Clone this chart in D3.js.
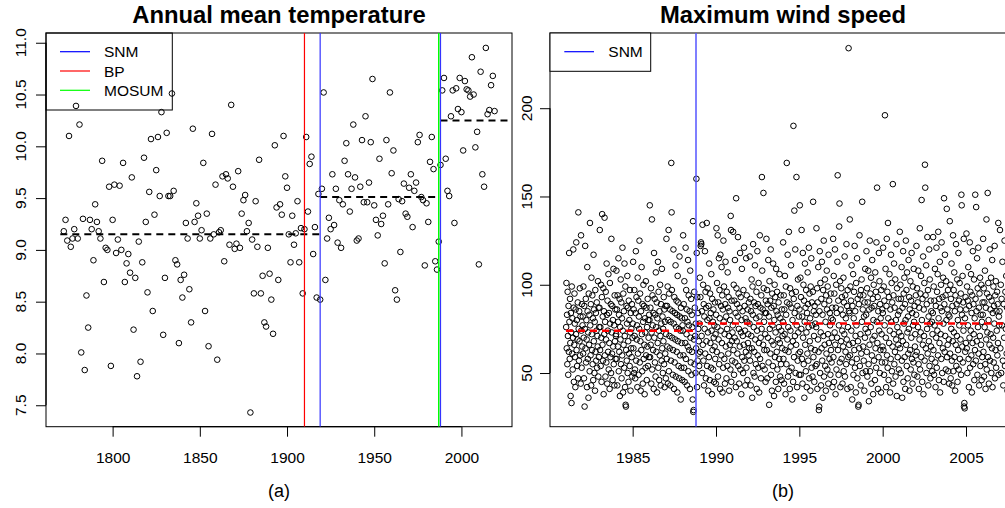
<!DOCTYPE html>
<html><head><meta charset="utf-8">
<script src="https://cdn.jsdelivr.net/npm/d3@7"></script>
<style>
html,body{margin:0;padding:0;background:#fff;}
svg{display:block;font-family:"Liberation Sans",Arial,Helvetica,sans-serif;}
</style></head>
<body>
<script>
// ---------- Panel (a): annual mean temperature ----------
const tempStartYear = 1772;
const tempValues = [
9.18,9.29,9.09,10.10,9.03,9.11,9.20,10.39,9.11,10.21,8.01,9.30,7.84,8.56,8.25,9.29,9.20,8.90,
9.44,9.27,9.18,9.11,9.86,8.69,9.02,9.00,9.61,7.88,9.29,9.63,8.97,9.10,9.62,9.00,9.84,8.69,8.87,
8.96,8.78,9.70,8.23,8.73,7.78,9.08,7.92,8.88,9.89,9.27,8.59,9.56,10.07,8.41,9.34,9.77,10.09,9.52,
10.33,8.18,8.73,10.13,9.52,9.52,10.51,9.57,8.90,8.86,8.10,8.71,8.54,8.76,9.26,9.11,8.62,8.30,10.17,
9.27,9.45,9.33,9.11,9.19,9.84,8.41,9.35,8.07,9.11,10.12,9.15,9.63,7.94,9.17,9.19,9.71,8.89,9.73,
9.69,9.05,10.40,9.61,9.01,9.06,9.76,9.02,9.35,9.48,9.53,9.18,9.26,7.43,9.10,8.58,9.47,9.03,9.87,
8.58,8.75,8.30,8.26,9.02,8.77,8.52,8.19,10.01,9.41,8.71,9.44,9.34,10.10,9.71,9.60,9.15,8.88,9.33,
9.05,9.16,9.47,8.88,9.21,8.58,9.20,10.09,9.37,9.83,9.90,8.96,9.22,8.54,9.54,8.52,9.59,10.52,8.71,
9.11,9.31,9.20,9.73,9.24,9.59,9.07,9.48,9.02,9.44,9.86,10.03,9.73,9.37,9.59,10.21,9.70,9.09,9.11,
9.61,10.06,9.46,10.29,9.46,9.65,10.04,10.65,9.43,9.29,9.14,9.88,9.25,9.33,8.87,10.06,9.44,10.52,
9.74,9.96,8.61,8.52,9.49,8.98,9.47,9.64,9.35,9.32,9.60,9.73,9.22,9.57,9.65,10.04,10.11,9.51,9.48,
8.85,9.45,9.27,9.85,10.09,9.78,8.89,8.81,9.08,9.82,10.54,10.66,9.88,9.57,9.52,10.29,10.54,9.26,
10.56,10.36,10.66,10.33,9.96,10.63,10.55,10.54,10.48,10.86,10.50,9.99,10.14,8.86,10.72,9.73,9.61,
10.95,10.31,10.35,10.59,10.68,10.34];
const tempXTicks = [1800,1850,1900,1950,2000];
const tempYTicks = [7.5,8.0,8.5,9.0,9.5,10.0,10.5,11.0];
const tempSNM = [1919,1988];
const tempBP = [1910];
const tempMOSUM = [1987];
const tempMeanFrom = [1770,1919,1988];
const tempMeanTo = [1919,1988,2029];
const tempMeanLevel = [9.15,9.51,10.25];

// ---------- Panel (b): maximum wind speed (observations listed in time order within each year) ----------
const windYears = [1981,1982,1983,1984,1985,1986,1987,1988,1989,1990,1991,1992,1993,1994,1995,1996,1997,1998,1999,2000,2001,2002,2003,2004,2005,2006,2007];
const windValues = [
[76,101,64,83,55,96,71,49,88,62,118,79,58,92,67,37,84,73,33,99,61,81,52,70,120,87,45,66,95,78,59,42,86,72,124,63,80,54,69,90,47,141,75,57,85,68,98,60,82,44,128,74,53,89,65,77],
[82,61,99,70,47,88,31,75,122,64,92,56,80,69,42,110,85,58,73,36,95,66,83,51,135,77,60,89,43,104,72,63,94,55,81,46,117,68,86,50,79,40,97,62,84,57,74,90,53,71,65,102,48,87,59,76],
[87,131,63,76,54,100,70,45,93,140,66,82,57,98,38,85,72,138,60,79,48,96,69,56,112,83,44,91,74,62,106,52,84,67,41,101,78,59,89,50,126,73,61,88,46,80,65,109,55,77,43,94,68,86,58,71],
[72,108,58,86,43,94,65,79,115,51,83,62,92,37,76,69,103,55,90,47,81,60,121,74,39,95,66,85,53,112,71,42,99,32,31,63,88,57,78,105,50,87,68,45,91,61,80,54,97,73,40,84,64,75,59,89,48,70],
[78,113,64,86,50,97,71,52,47,84,119,57,93,69,77,42,104,61,91,49,82,75,125,56,95,68,40,85,63,110,72,51,89,44,79,100,58,88,66,38,81,73,53,102,60,87,46,76,65,92,54,80,70,59,83],
[80,145,59,87,66,98,44,73,137,52,94,77,63,84,41,118,70,92,56,83,48,107,76,62,90,39,81,67,113,53,96,74,46,85,60,100,71,43,89,78,57,109,64,82,50,75,68,93,55,86,42,79,61,88,47],
[72,126,58,88,65,99,44,80,131,51,95,71,64,86,43,79,57,169,141,97,70,85,49,63,120,78,41,93,56,84,69,111,48,76,91,62,83,39,105,68,90,54,75,47,116,82,60,74,35,87,53,67,81,46,77],
[74,128,60,89,53,102,45,81,67,121,58,97,72,86,43,79,65,114,51,94,77,63,85,41,108,70,56,92,49,83,62,76,35,136,28,29,69,96,55,87,71,50,78,64,160,118,42,93,57,84,75,61,68,54],
[78,104,62,93,122,124,123,71,85,50,134,66,100,57,89,43,82,75,119,61,96,47,87,68,135,54,80,98,73,40,88,59,112,81,46,95,67,84,53,106,74,38,92,63,79,52,86,70,45,77,65,90,58,72,44],
[83,132,62,101,76,128,48,90,69,115,55,97,81,41,117,74,88,60,110,67,94,39,86,53,125,79,99,58,72,44,89,113,65,82,47,96,75,54,107,87,61,93,71,40,85,66,80,52,139,131,45,91,68,57,73],
[77,130,63,100,49,91,70,114,56,84,42,149,98,68,89,61,82,127,54,95,75,44,87,65,118,52,93,73,38,80,109,59,85,71,50,97,66,121,57,88,74,43,81,62,115,53,94,79,46,86,67,72,60,90,64],
[78,116,57,92,43,85,71,103,64,36,99,83,123,50,76,90,62,48,111,69,88,55,81,96,41,74,119,60,89,53,101,67,39,82,128,58,87,70,47,94,75,161,108,54,86,66,152,98,79,63,52,84,72,45,91],
[84,126,63,97,47,89,70,114,56,82,32,102,75,91,61,120,49,87,68,40,95,77,54,112,66,88,37,80,100,59,93,73,45,109,85,62,96,52,83,69,41,90,76,58,106,67,48,81,94,55,74,46,86,64,71],
[79,124,58,94,44,86,72,105,63,38,99,83,55,169,90,69,117,48,76,62,130,51,89,41,98,74,65,111,87,53,95,35,80,68,45,190,92,59,142,84,71,120,50,96,66,161,77,42,88,57,103,73,61,82,49],
[86,145,62,104,49,93,75,131,58,82,44,118,70,100,55,91,36,79,112,66,87,51,97,73,42,84,61,107,89,57,76,121,47,95,68,81,40,99,64,115,53,90,77,48,96,147,59,85,71,45,88,63,78,54,83],
[76,132,55,98,41,90,69,110,62,29,31,85,119,50,101,73,43,92,64,113,57,83,36,97,71,125,48,89,66,103,54,79,40,94,61,108,86,52,99,72,44,117,67,91,58,84,77,49,95,63,81,56,70,87,42],
[80,126,59,105,45,95,73,120,66,38,87,100,52,84,70,113,162,63,91,49,77,133,146,56,102,42,86,68,98,58,93,74,44,83,65,104,51,90,72,116,48,94,62,81,55,123,69,88,41,97,76,59,234,85,66],
[84,137,60,99,42,91,74,111,56,35,88,67,106,49,81,96,63,122,53,85,71,39,101,77,58,115,47,92,68,31,32,89,64,128,54,94,72,43,97,61,103,79,147,50,86,65,94,57,82,40,90,70,109,75,51],
[83,119,62,98,48,90,73,108,55,34,86,66,125,51,95,76,104,44,87,60,114,69,92,38,80,100,57,88,71,46,107,64,96,53,124,79,155,67,93,41,85,59,118,74,102,50,89,63,81,39,97,72,56,86,65],
[84,121,63,99,49,91,77,196,56,109,70,42,88,126,60,96,53,135,81,46,93,67,106,74,39,86,58,117,79,101,51,90,65,157,44,94,72,112,55,87,62,103,48,80,69,123,37,98,76,59,83,66,92,52,73],
[85,130,64,100,50,92,71,110,57,36,87,68,119,45,95,78,104,59,89,41,80,125,66,97,54,107,73,47,82,61,114,75,93,40,86,63,102,52,91,70,118,58,84,44,99,77,56,109,79,49,88,65,72,60,94],
[83,122,62,98,48,90,76,108,55,41,87,69,132,52,95,73,105,59,148,80,45,92,66,116,38,86,71,101,57,168,155,94,64,111,50,89,75,127,61,97,43,82,68,120,54,103,78,47,91,65,85,58,79,51,72],
[84,127,63,99,49,91,77,109,56,42,88,70,121,53,96,74,106,60,130,81,46,92,67,113,39,87,72,100,58,124,85,50,93,64,104,78,45,149,89,62,117,71,94,52,102,80,143,59,86,66,97,51,83,69,44],
[82,136,61,100,47,92,75,112,57,43,88,68,128,51,97,73,107,59,85,40,94,66,123,54,89,71,103,45,80,63,118,52,91,77,101,58,86,69,95,49,151,145,83,65,105,56,90,74,126,31,33,30,81,62,93,67],
[86,129,64,99,50,91,77,110,58,42,88,70,124,53,96,74,106,60,84,39,94,67,119,55,89,72,103,46,81,63,151,92,57,144,85,68,115,49,98,76,121,61,87,43,95,71,104,54,83,66,100,46,79,59,90],
[83,126,62,98,48,90,76,108,55,41,87,69,137,52,95,73,152,59,101,80,44,93,66,120,57,86,72,104,50,91,64,114,42,84,70,99,56,88,78,122,47,94,63,102,53,85,74,96,60,89,67,135,49,82,77],
[85,131,64,100,50,92,77,113,57,43,89,70,125,54,96,75,105,61,87,40,94,68,117,52,91,73,102,59,84,45,110,66,99,56,88,71,103,48,80,63]
];
const windXTicks = [1985,1990,1995,2000,2005];
const windYTicks = [50,100,150,200];
const windSNM = [1988.8];
const windMeanFrom = [1981.0,1988.8];
const windMeanTo = [1988.8,2011];
const windMeanLevel = [74,78];

// ---------- drawing ----------
const W = 1005, H = 508;
const svg = d3.select("body").append("svg").attr("width", W).attr("height", H);
const TICK_FONT = 15.5;

function drawPanel(cfg) {
  const {x, y, xTicks, yTicks, yFmt, title, label, id, yLabelX, boxRight} = cfg;
  const [x0] = x.range(); const [yb, yt] = y.range();
  svg.append("defs").append("clipPath").attr("id", id).append("rect")
    .attr("x", x0).attr("y", yt).attr("width", boxRight - x0).attr("height", yb - yt);
  const g = svg.append("g");

  g.append("rect").attr("x", x0).attr("y", yt).attr("width", boxRight - x0).attr("height", yb - yt)
    .attr("fill", "none").attr("stroke", "#000").attr("stroke-width", 1);

  const xa = g.append("g").attr("transform", `translate(0,${yb})`)
    .call(d3.axisBottom(x).tickValues(xTicks).tickSize(10).tickPadding(15).tickFormat(d3.format("d")));
  xa.select(".domain").remove();
  xa.append("line").attr("x1", x(xTicks[0])).attr("x2", x(xTicks[xTicks.length-1]))
    .attr("stroke", "#000").attr("stroke-width", 1.2);
  xa.selectAll("text").attr("font-size", TICK_FONT).attr("fill", "#000")
    .attr("font-family", '"Liberation Sans",Arial,sans-serif');
  xa.selectAll(".tick line").attr("stroke", "#000");

  const ya = g.append("g").attr("transform", `translate(${x0},0)`)
    .call(d3.axisLeft(y).tickValues(yTicks).tickSize(10).tickFormat(() => ""));
  ya.select(".domain").remove();
  ya.append("line").attr("y1", y(yTicks[0])).attr("y2", y(yTicks[yTicks.length-1]))
    .attr("stroke", "#000").attr("stroke-width", 1.2);
  ya.selectAll(".tick line").attr("stroke", "#000");
  g.selectAll(".ylab").data(yTicks).enter().append("text")
    .attr("transform", d => `translate(${yLabelX},${y(d)}) rotate(-90)`)
    .attr("text-anchor", "middle").attr("font-size", TICK_FONT).attr("fill", "#000")
    .text(yFmt);

  g.append("text").attr("x", cfg.titleX).attr("y", 23).attr("text-anchor", "middle")
    .attr("font-weight", "bold").attr("font-size", cfg.titleSize).text(title);
  g.append("text").attr("x", cfg.titleX).attr("y", 497).attr("text-anchor", "middle")
    .attr("font-size", 18).text(label);

  return svg.append("g").attr("clip-path", `url(#${id})`);
}

// Panel (a)
const xA = d3.scaleLinear().domain([1761.8, 2029]).range([46, 512]);
const yA = d3.scaleLinear().domain([7.293, 11.094]).range([426.7, 33]);
const plotA = drawPanel({x: xA, y: yA, xTicks: tempXTicks, yTicks: tempYTicks,
  yFmt: d3.format(".1f"), title: "Annual mean temperature", label: "(a)", id: "clipA",
  yLabelX: 25.5, boxRight: 512, titleX: 279, titleSize: 23.8});

const legA = svg.append("g");
legA.append("rect").attr("x", 46).attr("y", 33).attr("width", 126.3).attr("height", 77)
  .attr("fill", "none").attr("stroke", "#000");
const legItemsA = [["SNM", "#0000ff"], ["BP", "#ff0000"], ["MOSUM", "#00ff00"]];
legItemsA.forEach((d, i) => {
  const yy = 51.7 + i * 19.3;
  legA.append("line").attr("x1", 60).attr("x2", 90).attr("y1", yy).attr("y2", yy)
    .attr("stroke", d[1]).attr("stroke-width", 1.2);
  legA.append("text").attr("x", 104).attr("y", yy + 5.5).attr("font-size", 15.5).text(d[0]);
});

plotA.selectAll(".meanA").data(tempMeanLevel).enter().append("line")
  .attr("x1", (d, i) => xA(tempMeanFrom[i])).attr("x2", (d, i) => xA(tempMeanTo[i]))
  .attr("y1", d => yA(d)).attr("y2", d => yA(d))
  .attr("stroke", "#000").attr("stroke-width", 2).attr("stroke-dasharray", "7,5");

plotA.selectAll(".ptA").data(tempValues).enter().append("circle")
  .attr("cx", (d, i) => xA(tempStartYear + i)).attr("cy", d => yA(d)).attr("r", 2.8)
  .attr("fill", "none").attr("stroke", "#000").attr("stroke-width", 1);

const vlineA = (yrs, col, w) => plotA.selectAll(null).data(yrs).enter().append("line")
  .attr("x1", d => xA(d)).attr("x2", d => xA(d)).attr("y1", 33).attr("y2", 426.7)
  .attr("stroke", col).attr("stroke-width", w);
vlineA(tempBP, "#ff0000", 1.2);
vlineA(tempMOSUM, "#00ff00", 1.5);
vlineA(tempSNM, "#3333ff", 1.2);

// Panel (b)
const xB = d3.scaleLinear().domain([1980.04, 2011]).range([550, 550 + (2011 - 1980.04) * 16.667]);
const yB = d3.scaleLinear().domain([19.6, 242.6]).range([426.7, 33]);
const plotB = drawPanel({x: xB, y: yB, xTicks: windXTicks, yTicks: windYTicks,
  yFmt: d3.format("d"), title: "Maximum wind speed", label: "(b)", id: "clipB",
  yLabelX: 531.5, boxRight: 1080, titleX: 783, titleSize: 23.8});

const windPts = [];
windYears.forEach((yr, k) => {
  const vals = windValues[k];
  vals.forEach((v, i) => windPts.push([yr + (i + 0.5) / vals.length, v]));
});
plotB.selectAll(".ptB").data(windPts).enter().append("circle")
  .attr("cx", d => xB(d[0])).attr("cy", d => yB(d[1])).attr("r", 2.8)
  .attr("fill", "none").attr("stroke", "#000").attr("stroke-width", 1);

plotB.selectAll(".meanB").data(windMeanLevel).enter().append("line")
  .attr("x1", (d, i) => xB(windMeanFrom[i])).attr("x2", (d, i) => xB(windMeanTo[i]))
  .attr("y1", d => yB(d)).attr("y2", d => yB(d))
  .attr("stroke", "#ff0000").attr("stroke-width", 2.5).attr("stroke-dasharray", "7,5");

plotB.selectAll(".vB").data(windSNM).enter().append("line")
  .attr("x1", d => xB(d)).attr("x2", d => xB(d)).attr("y1", 33).attr("y2", 426.7)
  .attr("stroke", "#5555ff").attr("stroke-width", 1.5);

const legB = svg.append("g");
legB.append("rect").attr("x", 550).attr("y", 33).attr("width", 100.7).attr("height", 38.3)
  .attr("fill", "#fff").attr("stroke", "#000");
legB.append("line").attr("x1", 564.3).attr("x2", 594).attr("y1", 51.7).attr("y2", 51.7)
  .attr("stroke", "#0000ff").attr("stroke-width", 1.2);
legB.append("text").attr("x", 608.3).attr("y", 57.2).attr("font-size", 15.5).text("SNM");
</script>
</body></html>
